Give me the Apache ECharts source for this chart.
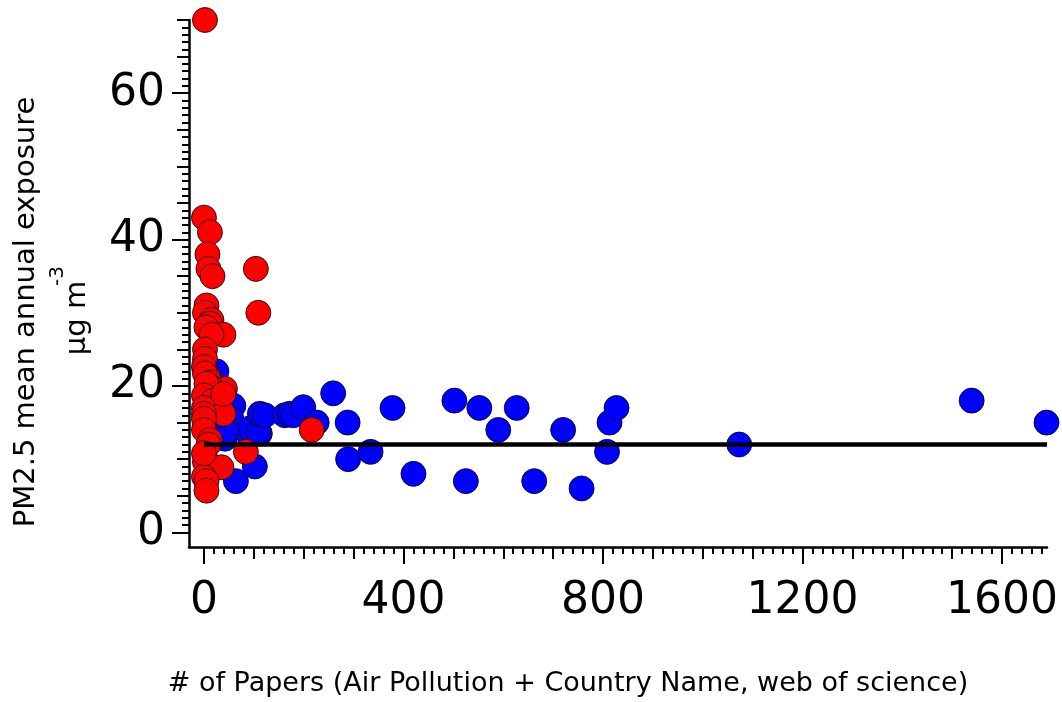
<!DOCTYPE html>
<html>
<head>
<meta charset="utf-8">
<script src="https://cdn.jsdelivr.net/npm/echarts@6/dist/echarts.min.js"></script>
<style>
  html, body { margin: 0; padding: 0; background: #fff; }
  #chart { width: 1062px; height: 702px; }
</style>
</head>
<body>
<div id="chart"></div>
<script>
// blue countries: [papers, PM2.5]
const blueX = [25, 59, 55, 2, 25, 42, 15, 89, 112, 92, 109, 112, 122, 162, 172, 179, 199, 226,
  259, 288, 289, 334, 378, 420, 502, 525, 552, 590, 627, 662, 720, 757, 808, 813, 827, 1073, 1539, 1689, 102, 64, 45];
const blueY = [22, 17.3, 15.5, 14.2, 13, 12.8, 13, 13.5, 13.5, 14.2, 13.7, 16.2, 16, 16, 16.2, 16, 17.1, 15,
  19, 15, 10, 11, 17, 8, 18, 7, 17, 14, 17, 7, 14, 6, 11, 15, 17, 12, 18, 15, 9, 7, 13.9];

// red countries
const redX = [2, 0, 12, 7, 9, 17, 104, 5, 2, 109, 15, 12, 5, 39, 15,
  2, 2, 0, 9, 2, 12, 42, 12, 5, 0, 19, 0, 39, 0, 0,
  0, 12, 9, 84, 216, 2, 15, 35, 0, 5, 5, 0, 39];
const redY = [70, 43, 41, 38, 36, 35, 36, 31, 30, 30, 29, 28.5, 28, 27, 27,
  25, 23.7, 22.6, 21.2, 21.7, 20.5, 19.6, 20, 20.3, 18.7, 18, 17, 16.2, 16.2, 15.5,
  14, 12.6, 12, 11, 14, 9.6, 9.1, 8.9, 7.6, 7, 5.7, 10.8, 18.9];

// horizontal reference line
const refX = [0, 1690];
const refY = [12, 12];

// axis ticks / labels
const xLabels = [0, 400, 800, 1200, 1600];
const yLabels = [0, 20, 40, 60];
function range(a, b, step) { const r = []; for (let v = a; v <= b; v += step) r.push(v); return r; }
const xMid = range(0, 1600, 100), xMinor = range(0, 1680, 20);
const yMid = range(0, 70, 5), yMinor = range(0, 70, 1);

const font = 'DejaVu Sans';
const X_MIN = -30, X_MAX = 1690, Y_MIN = -2, Y_MAX = 70;

function xAx(ticks, len, withLabels) {
  return {
    type: 'value', position: 'bottom', min: X_MIN, max: X_MAX,
    axisLine: {show: withLabels, onZero: false, lineStyle: {color: '#000', width: 2.5}},
    axisTick: {show: true, customValues: ticks, length: len, lineStyle: {color: '#000', width: 2}},
    axisLabel: withLabels ? {customValues: xLabels, formatter: v => String(v), fontSize: 44,
                             fontFamily: font, color: '#000', margin: 33}
                          : {show: false},
    splitLine: {show: false}
  };
}
function yAx(ticks, len, withLabels) {
  return {
    type: 'value', position: 'left', min: Y_MIN, max: Y_MAX,
    axisLine: {show: withLabels, onZero: false, lineStyle: {color: '#000', width: 2.5}},
    axisTick: {show: true, customValues: ticks, length: len, lineStyle: {color: '#000', width: 2}},
    axisLabel: withLabels ? {customValues: yLabels, formatter: v => String(v), fontSize: 44,
                             fontFamily: font, color: '#000', margin: 24}
                          : {show: false},
    splitLine: {show: false}
  };
}

const chart = echarts.init(document.getElementById('chart'), null, {renderer: 'canvas'});
chart.setOption({
  animation: false,
  backgroundColor: '#fff',
  grid: {left: 189, right: 15, top: 20, bottom: 155},
  xAxis: [xAx(xLabels, 17, true), xAx(xMid, 12, false), xAx(xMinor, 7, false)],
  yAxis: [yAx(yLabels, 17, true), yAx(yMid, 12, false), yAx(yMinor, 7, false)],
  graphic: [
    {type: 'text', x: 26, y: 312, rotation: Math.PI / 2,
     style: {text: 'PM2.5 mean annual exposure', fontSize: 29, fontFamily: font, fill: '#000',
             align: 'center', verticalAlign: 'middle'}},
    {type: 'text', x: 77, y: 318, rotation: Math.PI / 2,
     style: {text: 'μg m', fontSize: 29, fontFamily: font, fill: '#000',
             align: 'center', verticalAlign: 'middle'}},
    {type: 'text', x: 58, y: 276, rotation: Math.PI / 2,
     style: {text: '-3', fontSize: 20, fontFamily: font, fill: '#000',
             align: 'center', verticalAlign: 'middle'}},
    {type: 'text', x: 568, y: 684,
     style: {text: '# of Papers (Air Pollution + Country Name, web of science)', fontSize: 27,
             fontFamily: font, fill: '#000', align: 'center', verticalAlign: 'middle'}}
  ],
  series: [
    {type: 'scatter', name: 'blue', symbolSize: 25, z: 2,
     data: blueX.map((x, i) => [x, blueY[i]]),
     itemStyle: {color: '#0000ff', borderColor: '#000', borderWidth: 0.8, opacity: 1}},
    {type: 'scatter', name: 'red', symbolSize: 25, z: 3,
     data: redX.map((x, i) => [x, redY[i]]),
     itemStyle: {color: '#ff0000', borderColor: '#000', borderWidth: 0.8, opacity: 1}},
    {type: 'line', name: 'ref', z: 4, symbol: 'none',
     data: refX.map((x, i) => [x, refY[i]]),
     lineStyle: {color: '#000', width: 4.5}}
  ]
});
</script>
</body>
</html>
